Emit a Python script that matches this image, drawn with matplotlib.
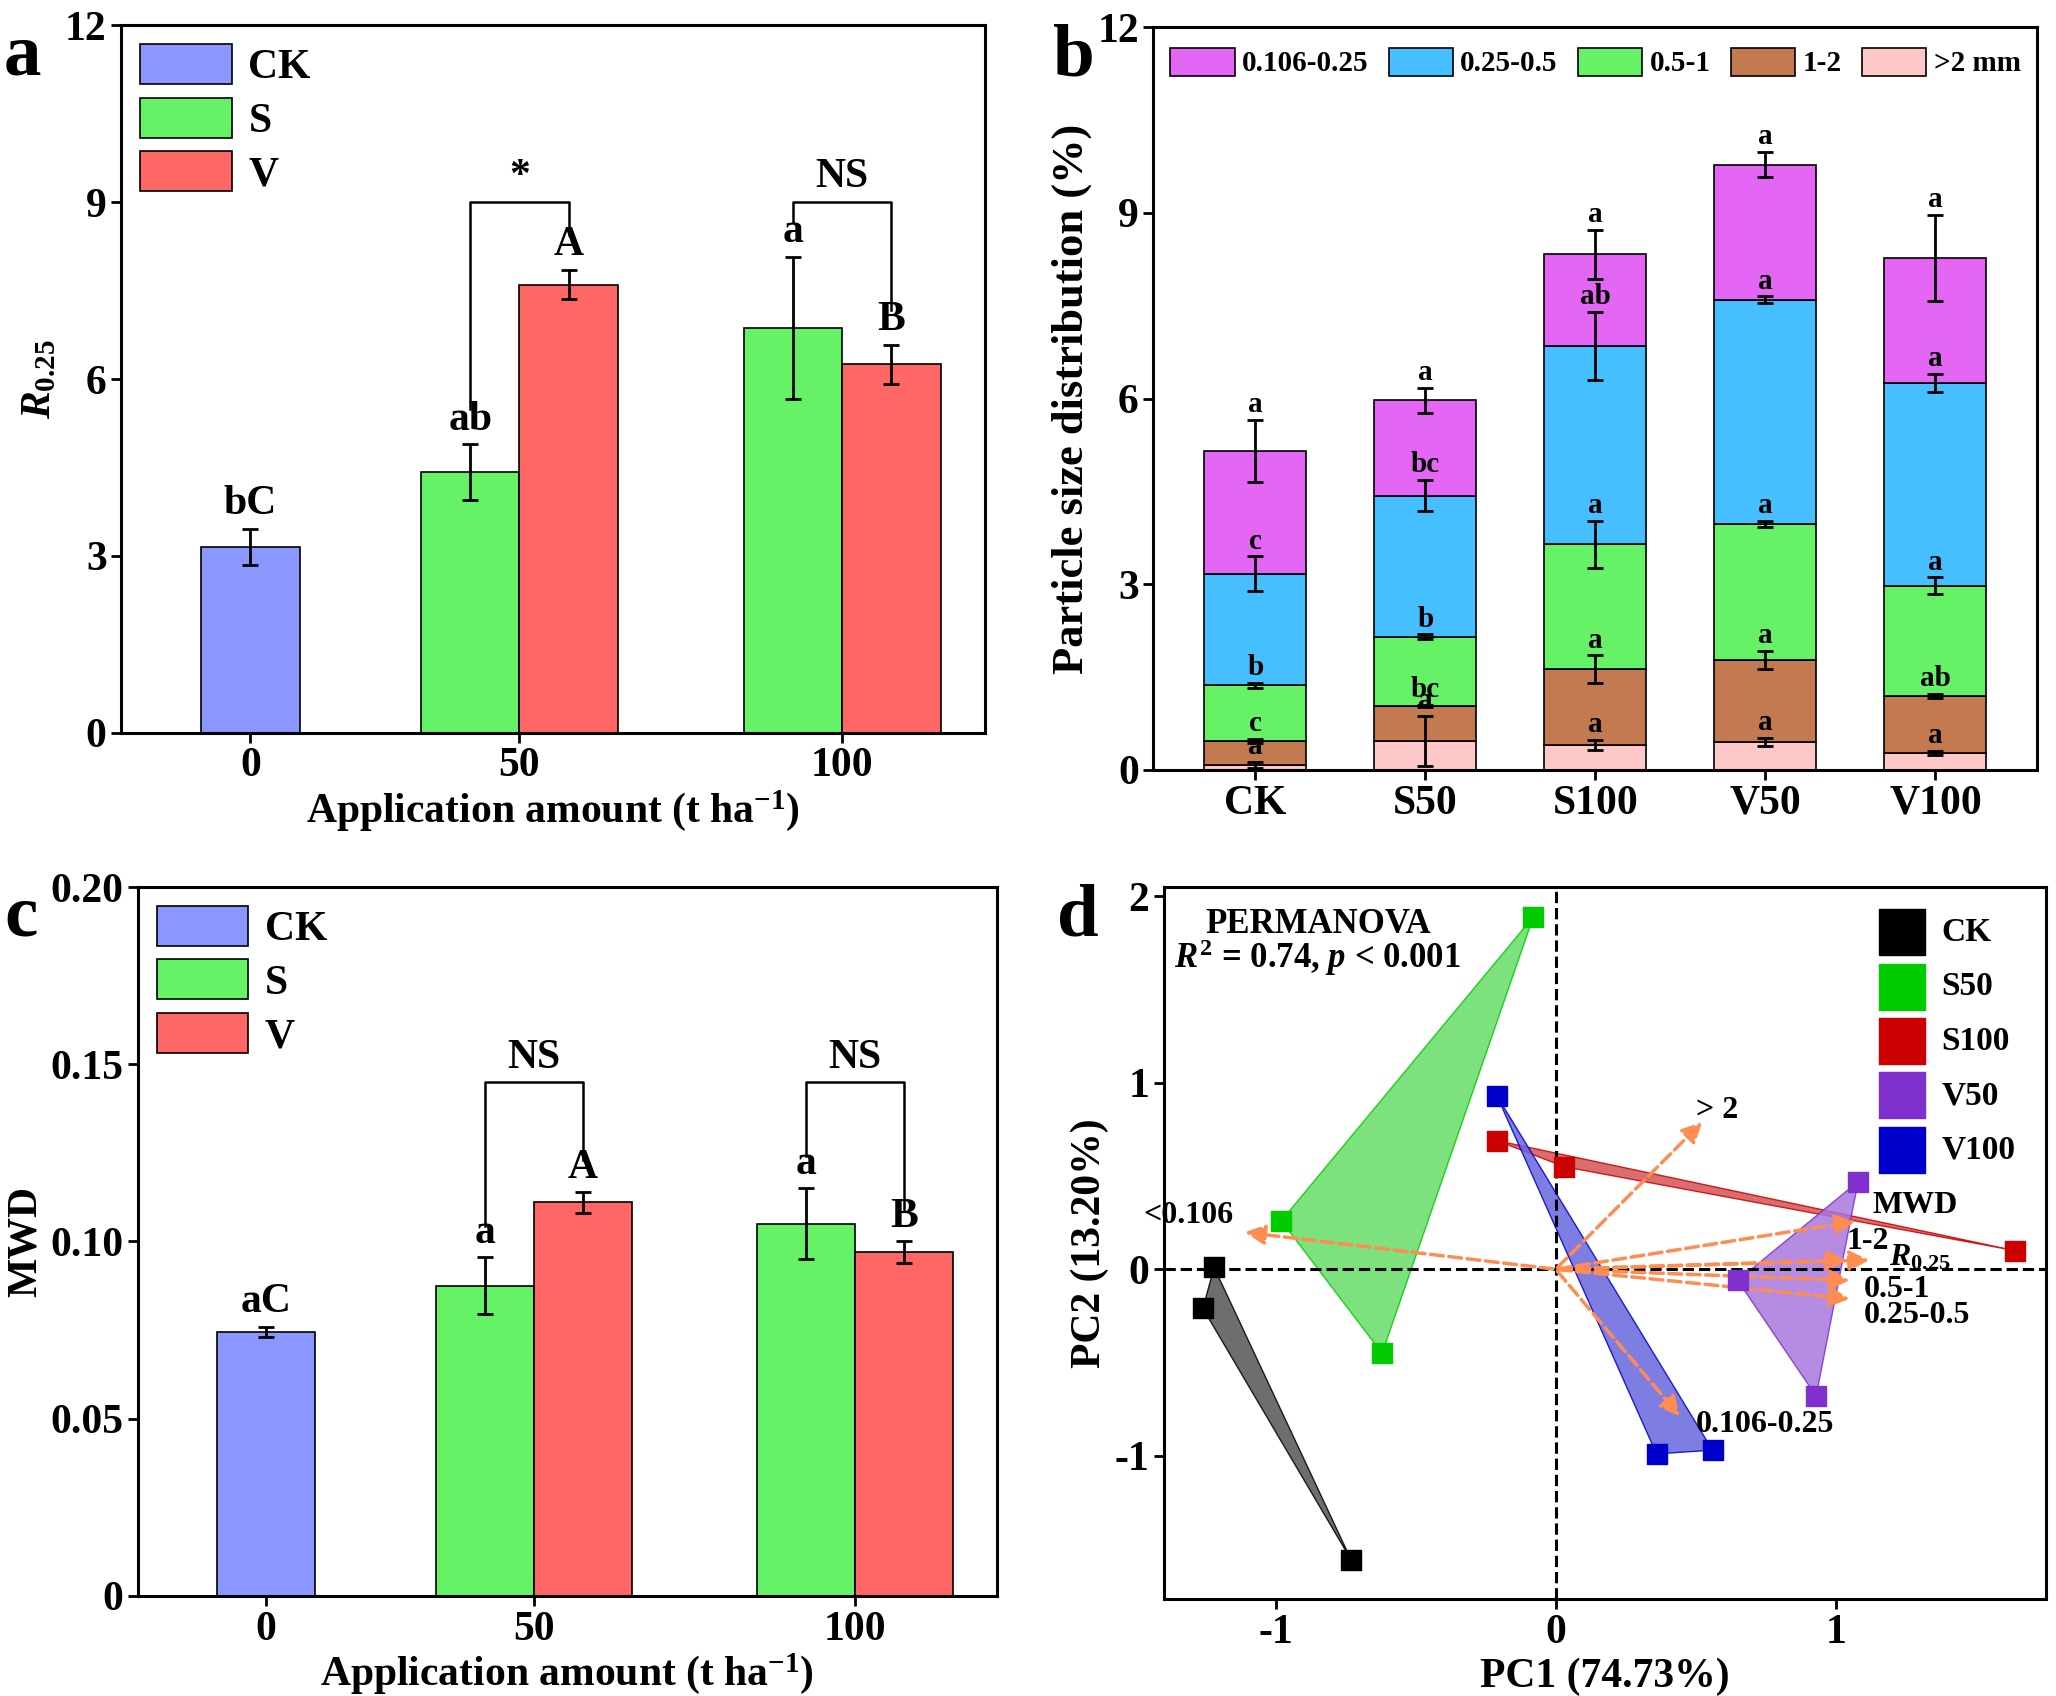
import matplotlib
matplotlib.use("Agg")
import matplotlib.pyplot as plt
import numpy as np

plt.rcParams['font.family'] = ['Liberation Serif', 'DejaVu Serif']
plt.rcParams['font.weight'] = 'bold'
plt.rcParams['axes.labelweight'] = 'bold'
plt.rcParams['axes.linewidth'] = 2.2
plt.rcParams['axes.unicode_minus'] = False
plt.rcParams['mathtext.fontset'] = 'custom'
plt.rcParams['mathtext.it'] = 'Liberation Serif:italic:bold'
plt.rcParams['mathtext.rm'] = 'Liberation Serif:bold'

# ---- data ----
groups = ['0', '50', '100']
gpos = [0, 1, 2.2]
r025_ck, r025_ck_err = 3.15, 0.3
r025_s = [4.42, 6.87]; r025_s_err = [0.47, 1.2]
r025_v = [7.6, 6.25]; r025_v_err = [0.25, 0.33]
r025_lab_ck = 'bC'; r025_lab_s = ['ab', 'a']; r025_lab_v = ['A', 'B']
r025_sig = ['*', 'NS']

mwd_ck, mwd_ck_err = 0.0745, 0.0015
mwd_s = [0.0875, 0.105]; mwd_s_err = [0.008, 0.01]
mwd_v = [0.111, 0.097]; mwd_v_err = [0.003, 0.003]
mwd_lab_ck = 'aC'; mwd_lab_s = ['a', 'a']; mwd_lab_v = ['A', 'B']
mwd_sig = ['NS', 'NS']

treat = ['CK', 'S50', 'S100', 'V50', 'V100']
layers = ['>2 mm', '1-2', '0.5-1', '0.25-0.5', '0.106-0.25']
layer_cols = ['#FFC8C8', '#C47A50', '#66F266', '#45BFFF', '#E366F5']
# cumulative tops per layer (bottom to top)
cum = np.array([[0.08, 0.47, 1.37, 3.17, 5.15],
                [0.47, 1.03, 2.15, 4.43, 5.97],
                [0.40, 1.63, 3.65, 6.85, 8.33],
                [0.45, 1.78, 3.97, 7.60, 9.78],
                [0.28, 1.20, 2.98, 6.25, 8.27]])
cum_err = np.array([[0.05, 0.03, 0.04, 0.28, 0.50],
                    [0.40, 0.02, 0.04, 0.25, 0.20],
                    [0.08, 0.22, 0.38, 0.55, 0.40],
                    [0.07, 0.15, 0.05, 0.05, 0.20],
                    [0.03, 0.03, 0.13, 0.15, 0.70]])
cum_lab = [['a', 'c', 'b', 'c', 'a'],
           ['a', 'bc', 'b', 'bc', 'a'],
           ['a', 'a', 'a', 'ab', 'a'],
           ['a', 'a', 'a', 'a', 'a'],
           ['a', 'ab', 'a', 'a', 'a']]

pca_pts = {
    'CK': ([-1.22, -1.26, -0.73], [0.01, -0.21, -1.56], '#000000', '#555555'),
    'S50': ([-0.08, -0.98, -0.62], [1.89, 0.26, -0.45], '#00CC00', '#66DD66'),
    'S100': ([-0.21, 0.03, 1.64], [0.69, 0.55, 0.10], '#CC0000', '#D45555'),
    'V50': ([1.08, 0.65, 0.93], [0.47, -0.06, -0.68], '#8030CC', '#AA77DD'),
    'V100': ([-0.21, 0.36, 0.56], [0.93, -0.99, -0.97], '#0000CC', '#6666DD'),
}
vec_names = ['<0.106', '> 2', 'MWD', '1-2', '$R_{0.25}$', '0.5-1', '0.25-0.5', '0.106-0.25']
vec_x = [-1.12, 0.53, 1.08, 1.05, 1.13, 1.06, 1.06, 0.45]
vec_y = [0.20, 0.80, 0.26, 0.05, 0.05, -0.06, -0.16, -0.80]

fig = plt.figure(figsize=(20.56, 16.96), dpi=100)
FS = 30
blue, green, red = '#8C96FF', '#66F266', '#FF6666'


def bar_panel(ax, ck, ckerr, s, serr, v, verr, labck, labs, labv, sig, ylim, step, ylabel, bracket_y, off):
    w = 0.366
    ax.bar(gpos[0], ck, w, yerr=ckerr, color=blue, edgecolor='k', lw=1.2, capsize=6,
           error_kw=dict(lw=2, capthick=2), label='CK')
    ax.bar([gpos[1] - w / 2, gpos[2] - w / 2], s, w, yerr=serr, color=green, edgecolor='k', lw=1.2,
           capsize=6, error_kw=dict(lw=2, capthick=2), label='S')
    ax.bar([gpos[1] + w / 2, gpos[2] + w / 2], v, w, yerr=verr, color=red, edgecolor='k', lw=1.2,
           capsize=6, error_kw=dict(lw=2, capthick=2), label='V')
    ax.text(gpos[0], ck + ckerr + off, labck, ha='center', va='bottom', fontsize=FS)
    for i in range(2):
        xs, xv = gpos[i + 1] - w / 2, gpos[i + 1] + w / 2
        ts, tv = s[i] + serr[i] + off, v[i] + verr[i] + off
        ax.text(xs, ts, labs[i], ha='center', va='bottom', fontsize=FS)
        ax.text(xv, tv, labv[i], ha='center', va='bottom', fontsize=FS)
        by = bracket_y[i]
        ax.plot([xs, xs, xv, xv], [ts + off * 5, by, by, tv + off * 5], color='k', lw=1.8)
        ax.text(gpos[i + 1], by + off, sig[i], ha='center', va='bottom', fontsize=FS)
    ax.set_xlim(-0.48, 2.73)
    ax.set_ylim(*ylim)
    ax.set_yticks(np.arange(0, ylim[1] + step / 2, step))
    ax.set_xticks(gpos)
    ax.set_xticklabels(groups)
    ax.set_xlabel('Application amount (t ha$^{-1}$)', fontsize=FS, labelpad=2)
    ax.set_ylabel(ylabel, fontsize=FS)
    ax.tick_params(labelsize=FS, width=2, length=7, direction='out')
    ax.legend(loc='upper left', fontsize=FS, frameon=False, handlelength=2.2, handleheight=1.1,
              borderaxespad=0.05, labelspacing=0.25, handletextpad=0.4)


axa = fig.add_axes([0.059, 0.568, 0.42, 0.417])
bar_panel(axa, r025_ck, r025_ck_err, r025_s, r025_s_err, r025_v, r025_v_err,
          r025_lab_ck, r025_lab_s, r025_lab_v, r025_sig, (0, 12), 3, '$R_{0.25}$', [9.0, 9.0], 0.1)
axa.set_yticklabels(['0', '3', '6', '9', '12'])

axc = fig.add_axes([0.067, 0.059, 0.418, 0.418])
bar_panel(axc, mwd_ck, mwd_ck_err, mwd_s, mwd_s_err, mwd_v, mwd_v_err,
          mwd_lab_ck, mwd_lab_s, mwd_lab_v, mwd_sig, (0, 0.2), 0.05, 'MWD', [0.145, 0.145], 0.0015)
axc.set_yticklabels(['0', '0.05', '0.10', '0.15', '0.20'])

# ---- b ----
axb = fig.add_axes([0.561, 0.546, 0.43, 0.438])
xb = np.arange(len(treat))
for j in range(len(layers)):
    bottom = cum[:, j - 1] if j > 0 else np.zeros(len(treat))
    axb.bar(xb, cum[:, j] - bottom, 0.6, bottom=bottom, color=layer_cols[j], edgecolor='k', lw=1.2,
            label=layers[j])
    axb.errorbar(xb, cum[:, j], yerr=cum_err[:, j], fmt='none', ecolor='k', elinewidth=2, capsize=6,
                 capthick=2)
    for i in range(len(treat)):
        axb.text(xb[i], cum[i, j] + cum_err[i, j] + 0.03, cum_lab[i][j], ha='center', va='bottom',
                 fontsize=21)
axb.set_xlim(-0.6, 4.6)
axb.set_ylim(0, 12)
axb.set_yticks([0, 3, 6, 9, 12])
axb.set_xticks(xb)
axb.set_xticklabels(treat)
axb.set_ylabel('Particle size distribution (%)', fontsize=FS + 2)
axb.tick_params(labelsize=FS, width=2, length=7)
h, l = axb.get_legend_handles_labels()
axb.legend(h[::-1], l[::-1], loc='upper center', ncol=5, fontsize=21, frameon=False,
           handlelength=2.2, handleheight=1.1, columnspacing=0.7, handletextpad=0.25,
           borderaxespad=0.3)

# ---- d ----
axd = fig.add_axes([0.566, 0.057, 0.429, 0.42])
for name, (px, py, mc, fc) in pca_pts.items():
    axd.fill(px, py, color=fc, alpha=0.85, edgecolor=mc, lw=1)
    axd.scatter(px, py, marker='s', s=220, color=mc, zorder=5, label=name)
for nm, vx, vy in zip(vec_names, vec_x, vec_y):
    axd.annotate('', xy=(vx, vy), xytext=(0, 0),
                 arrowprops=dict(arrowstyle='-|>', color='#FF8C50', lw=2.5, ls='--',
                                 mutation_scale=30), zorder=4)
lab_xy = {'<0.106': (-1.15, 0.29, 'right'), '> 2': (0.5, 0.85, 'left'), 'MWD': (1.13, 0.34, 'left'),
          '1-2': (1.04, 0.15, 'left'), '$R_{0.25}$': (1.19, 0.06, 'left'), '0.5-1': (1.1, -0.11, 'left'),
          '0.25-0.5': (1.1, -0.25, 'left'), '0.106-0.25': (0.5, -0.83, 'left')}
for nm in vec_names:
    tx, ty, ha = lab_xy[nm]
    axd.text(tx, ty, nm, ha=ha, va='center', fontsize=23)
axd.axhline(0, color='k', ls='--', lw=2.2)
axd.axvline(0, color='k', ls='--', lw=2.2)
axd.set_xlim(-1.4, 1.75)
axd.set_ylim(-1.77, 2.05)
axd.set_xticks([-1, 0, 1])
axd.set_yticks([-1, 0, 1, 2])
axd.set_xlabel('PC1 (74.73%)', fontsize=FS)
axd.set_ylabel('PC2 (13.20%)', fontsize=FS)
axd.tick_params(labelsize=FS, width=2, length=7)
axd.text(-0.85, 1.85, 'PERMANOVA', ha='center', va='center', fontsize=25)
axd.text(-0.85, 1.67, '$R^2$ = 0.74, $p$ < 0.001', ha='center', va='center', fontsize=25)
axd.legend(loc='upper right', fontsize=24, frameon=False, markerscale=2.2, handletextpad=0.2,
           labelspacing=0.7)

for ax, t, x in [(axa, 'a', 0.0), (axb, 'b', 0.51), (axc, 'c', 0.0), (axd, 'd', 0.512)]:
    bb = ax.get_position()
    fig.text(x + 0.002, bb.y1 + 0.002, t, fontsize=54, va='top', ha='left')

fig.savefig('out.png', dpi=100)
